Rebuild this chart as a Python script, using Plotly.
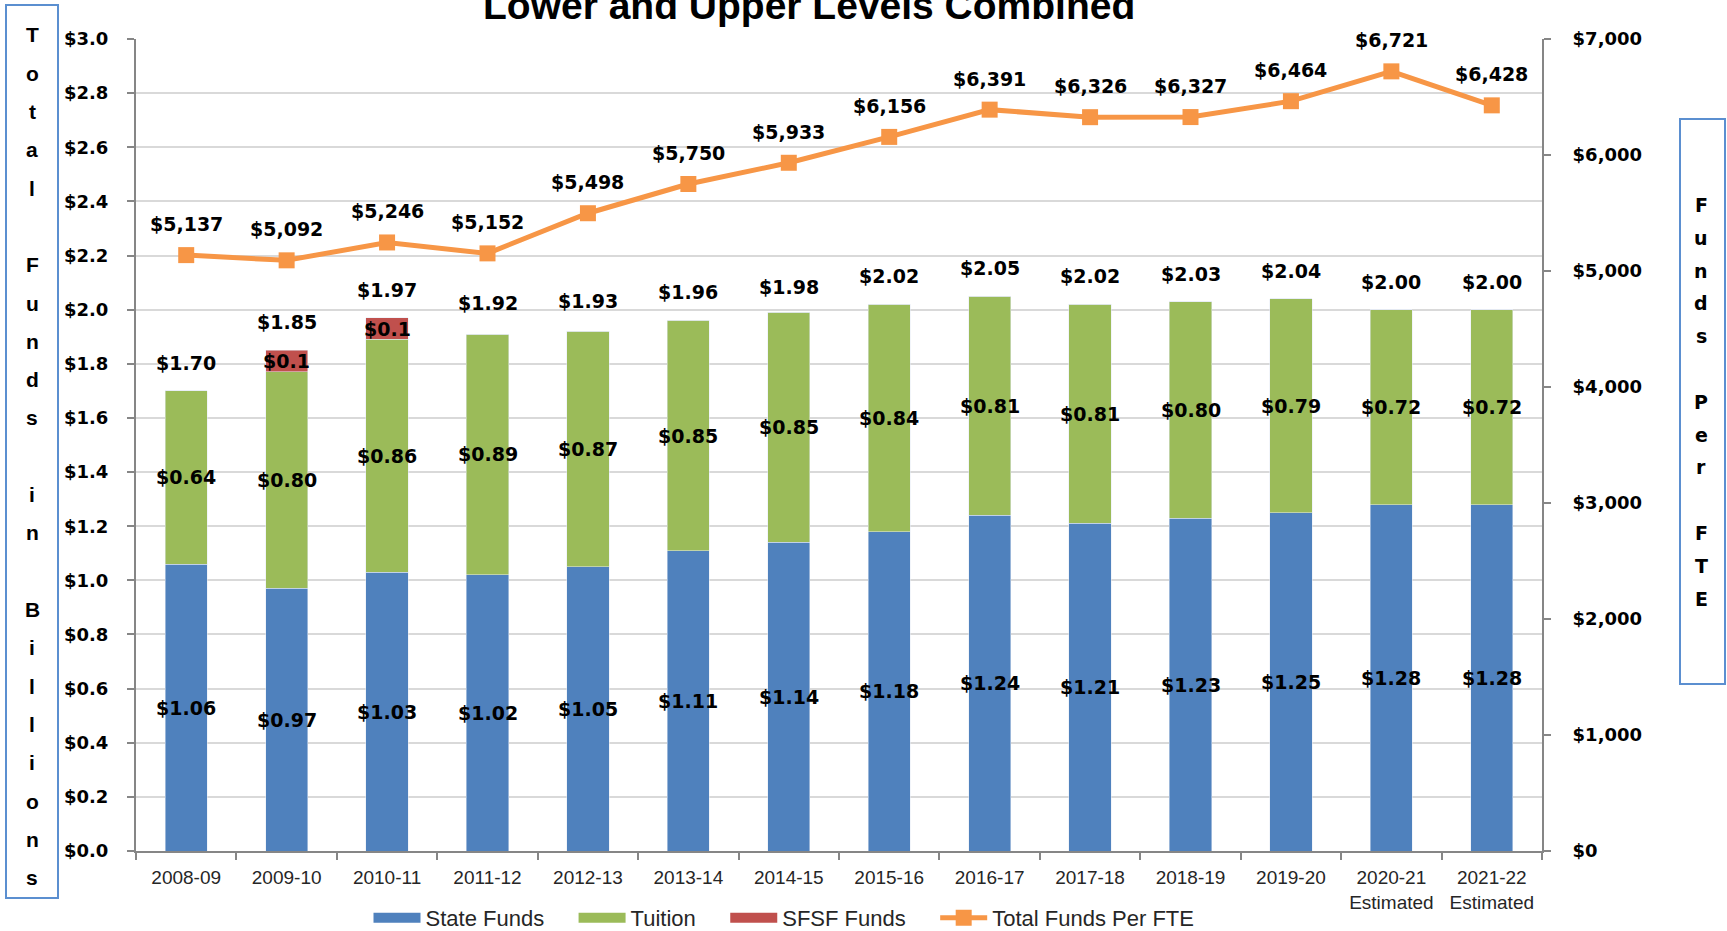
import plotly.graph_objects as go

categories = ["2008-09", "2009-10", "2010-11", "2011-12", "2012-13", "2013-14", "2014-15",
              "2015-16", "2016-17", "2017-18", "2018-19", "2019-20", "2020-21", "2021-22"]
tick_labels = ["2008-09", "2009-10", "2010-11", "2011-12", "2012-13", "2013-14", "2014-15",
               "2015-16", "2016-17", "2017-18", "2018-19", "2019-20",
               "2020-21<br>Estimated", "2021-22<br>Estimated"]
state_funds = [1.06, 0.97, 1.03, 1.02, 1.05, 1.11, 1.14, 1.18, 1.24, 1.21, 1.23, 1.25, 1.28, 1.28]
tuition = [0.64, 0.80, 0.86, 0.89, 0.87, 0.85, 0.85, 0.84, 0.81, 0.81, 0.80, 0.79, 0.72, 0.72]
sfsf = [0, 0.08, 0.08, 0, 0, 0, 0, 0, 0, 0, 0, 0, 0, 0]
sfsf_labels = ["", "$0.1", "$0.1", "", "", "", "", "", "", "", "", "", "", ""]
totals = [1.70, 1.85, 1.97, 1.92, 1.93, 1.96, 1.98, 2.02, 2.05, 2.02, 2.03, 2.04, 2.00, 2.00]
fte = [5137, 5092, 5246, 5152, 5498, 5750, 5933, 6156, 6391, 6326, 6327, 6464, 6721, 6428]

left_title_letters = list("Total") + [""] + list("Funds") + [""] + list("in") + [""] + list("Billions")
right_title_letters = list("Funds") + [""] + list("Per") + [""] + list("FTE")

BLUE = "#4F81BD"
GREEN = "#9BBB59"
RED = "#C0504D"
ORANGE = "#F79646"
AXIS = "#868686"
GRID = "#D9D9D9"

W, H = 1727, 931
ML, MR, MT, MB = 136, 185, 39, 80
PW, PH = W - ML - MR, H - MT - MB
PAD = "\u00a0" * 4  # extra spacing between legend entries


def px_x(px):
    return (px - ML) / PW


def px_y(py):
    return (H - MB - py) / PH


fig = go.Figure()
fig.add_trace(go.Bar(x=categories, y=state_funds, name="State Funds", marker_color=BLUE,
                     showlegend=False, legendgroup="s"))
fig.add_trace(go.Bar(x=categories, y=tuition, name="Tuition", marker_color=GREEN,
                     showlegend=False, legendgroup="t"))
fig.add_trace(go.Bar(x=categories, y=sfsf, name="SFSF Funds", marker_color=RED,
                     showlegend=False, legendgroup="f"))
# legend entries drawn as wide swatches, like the reference
for nm, col, grp in [("State Funds", BLUE, "s"), ("Tuition", GREEN, "t"), ("SFSF Funds", RED, "f")]:
    fig.add_trace(go.Scatter(x=[None], y=[None], mode="lines", name=nm + PAD, legendgroup=grp,
                             line=dict(color=col, width=13), hoverinfo="skip"))
fig.add_trace(go.Scatter(x=categories, y=fte, name="Total Funds Per FTE", yaxis="y2",
                         mode="lines+markers",
                         line=dict(color=ORANGE, width=5),
                         marker=dict(symbol="square", size=16, color=ORANGE)))

LBL = dict(family="DejaVu Sans", size=19, color="#000000")
ann = []
for i, c in enumerate(categories):
    ann.append(dict(x=c, y=state_funds[i] / 2, xref="x", yref="y", text="<b>$%.2f</b>" % state_funds[i],
                    showarrow=False, font=LBL, yanchor="middle"))
    ann.append(dict(x=c, y=state_funds[i] + tuition[i] / 2, xref="x", yref="y",
                    text="<b>$%.2f</b>" % tuition[i], showarrow=False, font=LBL, yanchor="middle"))
    if sfsf_labels[i]:
        ann.append(dict(x=c, y=state_funds[i] + tuition[i] + sfsf[i] / 2, xref="x", yref="y",
                        text="<b>%s</b>" % sfsf_labels[i], showarrow=False, font=LBL, yanchor="middle"))
    ann.append(dict(x=c, y=totals[i], xref="x", yref="y", text="<b>$%.2f</b>" % totals[i],
                    showarrow=False, font=LBL, yanchor="middle", yshift=28))
    ann.append(dict(x=c, y=fte[i], xref="x", yref="y2", text="<b>${:,}</b>".format(fte[i]),
                    showarrow=False, font=LBL, yanchor="middle", yshift=31))

# title (partially cut at the top, as in the reference)
ann.append(dict(x=px_x(809), y=px_y(5), xref="paper", yref="paper",
                text="<b>Lower and Upper Levels Combined</b>", showarrow=False,
                font=dict(family="Liberation Sans", size=39, color="#000000"),
                xanchor="center", yanchor="middle"))

for k, ch in enumerate(left_title_letters):
    if ch:
        ann.append(dict(x=px_x(32), y=px_y(35 + 38.3 * k), xref="paper", yref="paper",
                        text="<b>%s</b>" % ch, showarrow=False,
                        font=dict(family="Liberation Sans", size=21, color="#000000"),
                        xanchor="center", yanchor="middle"))
for k, ch in enumerate(right_title_letters):
    if ch:
        ann.append(dict(x=px_x(1701), y=px_y(205 + 32.8 * k), xref="paper", yref="paper",
                        text="<b>%s</b>" % ch, showarrow=False,
                        font=dict(family="DejaVu Sans", size=19, color="#000000"),
                        xanchor="center", yanchor="middle"))

shapes = [
    dict(type="rect", xref="paper", yref="paper", x0=px_x(6), x1=px_x(58), y0=px_y(898), y1=px_y(5),
         line=dict(color="#5B8FD0", width=2), fillcolor="rgba(0,0,0,0)"),
    dict(type="rect", xref="paper", yref="paper", x0=px_x(1680), x1=px_x(1725), y0=px_y(684), y1=px_y(119),
         line=dict(color="#5B8FD0", width=2), fillcolor="rgba(0,0,0,0)"),
]

fig.update_layout(
    width=W, height=H,
    margin=dict(l=ML, r=MR, t=MT, b=MB, pad=0, autoexpand=False),
    paper_bgcolor="white", plot_bgcolor="white",
    barmode="stack", bargap=0.58,
    annotations=ann, shapes=shapes,
    showlegend=True,
    legend=dict(orientation="h", x=px_x(784), xanchor="center", y=px_y(918), yanchor="middle",
                font=dict(family="Liberation Sans", size=22, color="#262626"),
                itemwidth=47, traceorder="normal", bgcolor="rgba(0,0,0,0)"),
    xaxis=dict(type="category", tickvals=categories, ticktext=tick_labels,
               range=[-0.5, len(categories) - 0.5], autorange=False,
               showline=True, linecolor=AXIS, linewidth=2,
               ticks="outside", tickson="boundaries", ticklen=7, tickcolor=AXIS, tickwidth=2,
               showgrid=False, ticklabelstandoff=8,
               tickfont=dict(family="Liberation Sans", size=19, color="#262626")),
    yaxis=dict(range=[0, 3.0], dtick=0.2, tickprefix="$", tickformat=".1f",
               showline=True, linecolor=AXIS, linewidth=2,
               ticks="outside", ticklen=7, tickcolor=AXIS, tickwidth=2,
               showgrid=True, gridcolor=GRID, gridwidth=2, zeroline=False,
               ticklabelstandoff=15,
               tickfont=dict(family="DejaVu Sans", size=18, color="#000000", weight="bold")),
    yaxis2=dict(range=[0, 7000], dtick=1000, tickprefix="$", tickformat=",d",
                overlaying="y", side="right",
                showline=True, linecolor=AXIS, linewidth=2,
                ticks="outside", ticklen=7, tickcolor=AXIS, tickwidth=2,
                showgrid=False, zeroline=False, ticklabelstandoff=18,
                tickfont=dict(family="DejaVu Sans", size=18, color="#000000", weight="bold")),
)

fig.write_html("out.html", config={"displayModeBar": False},
               post_script="document.body.style.margin='0';")
